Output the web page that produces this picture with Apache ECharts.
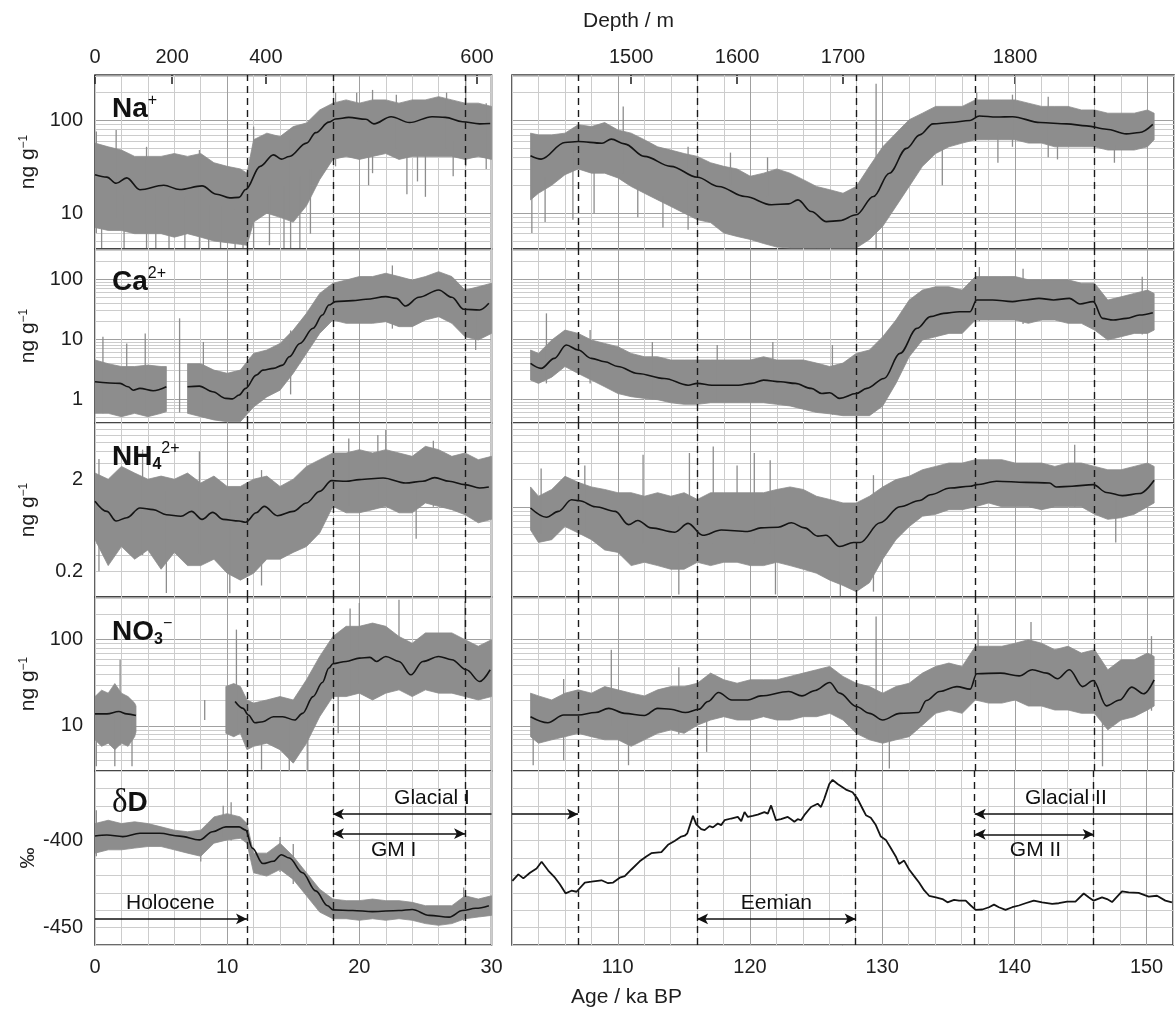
<!DOCTYPE html>
<html>
<head>
<meta charset="utf-8">
<title>Ice core ion records and δD</title>
<script src="https://cdn.jsdelivr.net/npm/echarts@6/dist/echarts.min.js"></script>
<style>
  html, body { margin: 0; padding: 0; background: #ffffff; }
  #chart { width: 1176px; height: 1014px; }
</style>
</head>
<body>
<div id="chart"></div>
<script>
// ------------------------------------------------------------------
// Records: raw-data envelopes [age ka, low, high], spikes [age, low, high]
// and the smoothed curves [age ka, value]. Left column 0-30 ka,
// right column 102-152 ka.
// ------------------------------------------------------------------

// ---- Na+ (ng/g) ----
const naLeftBand = [
  [0, 7, 57], [1, 6.5, 52], [2, 6.5, 48], [3, 6, 41], [4, 6, 41], [5, 6, 41],
  [6, 5.5, 44], [7, 6, 41], [8, 5.5, 44], [9, 5, 35], [10, 4.8, 32], [11, 4.6, 30],
  [11.5, 4.5, 27], [12, 8, 62], [13, 10, 73], [14, 9, 67], [15, 8, 86], [16, 12, 94],
  [17, 23, 130], [18, 38, 154], [19, 41, 167], [20, 38, 154], [21, 41, 167], [22, 44, 167],
  [23, 38, 154], [24, 41, 167], [25, 41, 167], [26, 41, 181], [27, 41, 167], [28, 38, 154],
  [29, 41, 154], [30, 38, 142]
];
const naLeftSpikes = [
  [0.1, 6.1, 76], [0.5, 4.2, 20], [1.6, 9, 79], [2.2, 4.2, 16], [3.9, 4.2, 52], [4.6, 4.2, 16],
  [5.6, 4.2, 15], [6.8, 4.2, 15], [7.9, 4.2, 48], [8.6, 4.2, 12], [9.5, 4.2, 12], [10.6, 4.2, 11],
  [11.2, 4.2, 11], [12, 4.2, 86], [13.2, 4.5, 20], [14.3, 4.2, 20], [14.8, 4.2, 62], [15.5, 4.2, 25],
  [16.3, 6, 30], [18.2, 32, 200], [19.8, 50, 200], [20.7, 20, 60], [21, 27, 214], [22.8, 50, 190],
  [23.6, 16, 154], [24.4, 22, 60], [25, 15, 167], [26.6, 50, 200], [27.1, 25, 60], [28.05, 32, 300],
  [29.6, 30, 154]
];
const naLeftLine = [
  [0, 26], [0.9, 24.5], [1.6, 21], [2.4, 24], [3.4, 17.9], [5.2, 20], [6.4, 18], [8.1, 19.7],
  [9.2, 16], [10.2, 14.6], [10.9, 14.8], [11.4, 18], [12.5, 32], [13.5, 42.6], [14.1, 38.3],
  [14.7, 40.8], [16, 57], [16.7, 74], [17.7, 96], [18.2, 104], [19.2, 108], [20.5, 103],
  [21.1, 92], [22.4, 110], [23.8, 95], [25.5, 110], [26.5, 108], [27.8, 97], [29.1, 92], [29.9, 93]
];
const naRightBand = [
  [103.4, 13.9, 73], [104, 16.4, 70], [105, 20, 70], [106, 26, 73], [107, 30, 90], [108, 27, 86],
  [109, 27, 95], [110, 24, 79], [111, 19.4, 73], [112, 16.4, 62], [113, 13.9, 52], [114, 11.8, 48],
  [115, 10, 44], [116, 8.5, 41], [117, 7.9, 35], [118, 6.1, 32], [119, 5.6, 30], [120, 5.2, 25],
  [121, 4.7, 27], [122, 4.3, 30], [123, 4.2, 27], [124, 4.2, 23], [125, 4.2, 19.4], [126, 4.2, 17.9],
  [127, 4.2, 16.4], [128, 4.2, 19.4], [129, 5.2, 32], [130, 7.2, 52], [131, 11.8, 73], [132, 19.4, 102],
  [133, 32, 120], [134, 44, 142], [135, 52, 142], [136, 57, 142], [137, 62, 167], [138, 62, 167],
  [139, 62, 167], [140, 62, 167], [141, 57, 154], [142, 57, 142], [143, 52, 142], [144, 52, 142],
  [145, 52, 130], [146, 52, 130], [147, 48, 120], [148, 48, 120], [149, 48, 120], [150, 52, 130],
  [150.5, 62, 120]
];
const naRightSpikes = [
  [103.5, 6.1, 62], [104.5, 8, 25], [106.6, 8.5, 73], [108.2, 10, 30], [110.4, 27, 142],
  [111.5, 9, 20], [113.4, 7, 15], [115.3, 6.6, 52], [118.5, 20, 45], [121.3, 15, 40],
  [129.5, 4.2, 250], [134.5, 20, 50], [137.1, 62, 200], [138.7, 35, 70], [139.8, 52, 190],
  [142.5, 40, 180], [143.2, 38, 60], [147.5, 35, 55]
];
const naRightLine = [
  [103.4, 41.6], [104.2, 38.3], [106, 57.9], [107, 59.3], [108.8, 56.9], [109.5, 63], [110.5, 56],
  [112, 41], [114, 32], [116, 24.4], [117.6, 19.4], [119.6, 15.1], [121.6, 12.3], [122.9, 12.6],
  [123.6, 13.9], [124.6, 10.4], [125.75, 8.1], [126.75, 8.3], [128, 9.6], [129.3, 15.1],
  [130.5, 27], [131.8, 50], [132.8, 70], [133.8, 92], [135.1, 95], [136.6, 100], [137.3, 112],
  [138.6, 109], [139.8, 110], [141.9, 95], [143.9, 92], [145.4, 87.5], [146.9, 80.5],
  [148.4, 71.7], [149.4, 74.3], [150.4, 91]
];

// ---- Ca2+ (ng/g) ----
const caLeftBandA = [
  [0, 0.58, 4.5], [1, 0.58, 3.9], [2, 0.51, 3.5], [3, 0.58, 3.5], [4, 0.51, 3.7], [5, 0.58, 3.5],
  [5.4, 0.62, 3.5]
];
const caLeftBandB = [
  [7, 0.58, 3.9], [8, 0.51, 3.9], [9, 0.45, 3.05], [10, 0.42, 2.7], [11, 0.42, 3.05], [12, 0.74, 5.8],
  [13, 1.09, 6.6], [14, 1.41, 8.5], [15, 2.7, 14.2], [16, 5.8, 27], [17, 12.5, 58], [18, 20.9, 86],
  [19, 18.4, 97], [20, 18.4, 111], [21, 18.4, 111], [22, 19.6, 126], [23, 16.2, 111], [24, 16.2, 97],
  [25, 20.9, 111], [26, 23.8, 134], [27, 18.4, 111], [28, 11, 66], [29, 9.7, 75], [30, 12.5, 86]
];
const caLeftSpikes = [
  [0.6, 0.58, 11], [2.4, 0.55, 8.5], [3.8, 0.58, 12.5], [6.4, 0.6, 22.3], [8.2, 0.5, 9],
  [14.8, 1.2, 14], [28.8, 6.6, 35], [22.5, 15, 170]
];
const caLeftLineA = [
  [0, 1.95], [1.9, 1.83], [2.5, 1.61], [2.9, 1.41], [3.4, 1.51], [4.4, 1.38], [5.4, 1.61]
];
const caLeftLineB = [
  [7.0, 1.61], [7.9, 1.65], [8.9, 1.33], [9.9, 1.03], [10.4, 1.01], [10.9, 1.17], [11.4, 1.51],
  [12.2, 2.52], [12.7, 3.05], [13.5, 3.26], [14.2, 3.7], [14.7, 5.1], [15.5, 8.5], [16.5, 15.2],
  [17.2, 25.3], [17.7, 37.2], [18.2, 42.4], [19.5, 44], [20.5, 46.3], [22, 51.3], [22.8, 48.1],
  [23.5, 35.8], [24.5, 50], [26, 66.4], [27, 50], [27.9, 31.6], [29.1, 30.7], [29.8, 39.7]
];
const caRightBand = [
  [103.4, 2.08, 6.6], [104, 1.83, 5.8], [105, 2.33, 9.7], [106, 3.5, 14.2], [107, 2.68, 12.5],
  [108, 2.08, 9.7], [109, 1.61, 8.5], [110, 1.24, 7.5], [111, 1.1, 5.8], [112, 1.03, 5.1],
  [113, 0.98, 5.1], [114, 0.87, 4.5], [115, 0.82, 4.5], [116, 0.82, 4.5], [117, 0.87, 4.5],
  [118, 0.87, 4.5], [119, 0.87, 4.5], [120, 0.87, 4.5], [121, 0.87, 5.1], [122, 0.82, 4.5],
  [123, 0.77, 4.5], [124, 0.68, 4.5], [125, 0.6, 4], [126, 0.57, 3.5], [127, 0.53, 4], [128, 0.53, 5.8],
  [129, 0.53, 6.6], [130, 0.77, 11], [131, 1.83, 20.9], [132, 5.1, 45], [133, 9.7, 66], [134, 11, 75],
  [135, 12.5, 75], [136, 12.5, 66], [137, 20.9, 111], [138, 20.9, 111], [139, 20.9, 111],
  [140, 20.9, 111], [141, 18.4, 98], [142, 20.9, 98], [143, 20.9, 98], [144, 18.4, 98], [145, 18.4, 86],
  [146, 14.2, 86], [147, 9.7, 45], [148, 11, 51], [149, 12.5, 58], [150, 12.5, 66], [150.5, 14.2, 58]
];
const caRightSpikes = [
  [104.6, 1.83, 27], [107.9, 1.83, 14.2], [112.6, 1.0, 9], [117.5, 0.9, 8], [121.7, 0.9, 9],
  [126.2, 0.55, 8], [137.3, 20, 160], [140.6, 18, 150], [149.6, 12, 110]
];
const caRightLine = [
  [103.4, 3.95], [104.2, 3.26], [105.2, 4.79], [106.1, 8.0], [107, 6.6], [108, 4.79], [109, 4.2],
  [110, 3.5], [111.5, 2.68], [113.5, 2.21], [115.3, 1.71], [116, 1.83], [117.1, 1.71], [119.1, 1.71],
  [120.1, 1.83], [121, 2.08], [122.3, 1.95], [123.4, 1.83], [124.6, 1.51], [125.4, 1.24], [126, 1.28],
  [126.75, 1.03], [128, 1.24], [128.8, 1.51], [130.1, 2.21], [131.3, 5.8], [132.6, 15.2],
  [133.6, 23.8], [134.6, 27], [135.8, 28.8], [136.6, 28.8], [137.1, 45.2], [138.3, 45.2],
  [139.8, 42.4], [140.8, 45.2], [141.8, 48.1], [142.9, 45.2], [144.1, 48.1], [144.9, 38.7],
  [145.9, 42.4], [146.6, 22.3], [147.4, 20.9], [148.4, 22.3], [149.4, 25.3], [150.4, 27.7]
];

// ---- NH4 (ng/g) ----
const nhLeftBand = [
  [0, 0.44, 2.32], [1, 0.23, 1.99], [2, 0.37, 2.74], [3, 0.27, 2.32], [4, 0.34, 1.99], [5, 0.21, 2.15],
  [6, 0.32, 1.99], [7, 0.23, 2.32], [8, 0.23, 1.81], [9, 0.27, 2.15], [10, 0.19, 1.66], [11, 0.16, 1.66],
  [12, 0.19, 1.99], [13, 0.27, 2.15], [14, 0.27, 1.66], [15, 0.32, 1.99], [16, 0.37, 2.74],
  [17, 0.52, 3.24], [18, 1.01, 3.83], [19, 0.86, 3.83], [20, 0.86, 4.16], [21, 0.93, 3.83],
  [22, 1.01, 4.16], [23, 0.86, 3.83], [24, 0.86, 3.52], [25, 1.1, 4.52], [26, 1.01, 4.16],
  [27, 0.93, 3.52], [28, 0.82, 3.83], [29, 0.67, 3.24], [30, 0.73, 3.52]
];
const nhLeftSpikes = [
  [0.3, 0.2, 3.3], [3.6, 0.3, 4.16], [5.4, 0.116, 1.5], [7.9, 0.3, 4.0], [10.2, 0.115, 1.2],
  [12.6, 0.14, 2.5], [19.2, 1.0, 5.5], [21.4, 1.0, 6.0], [22, 1.01, 6.8], [25.6, 1.0, 5.2], [24.3, 0.45, 2.0]
];
const nhLeftLine = [
  [0, 1.15], [0.9, 0.89], [1.6, 0.70], [2.4, 0.76], [3.4, 0.97], [4.4, 0.93], [5.4, 0.82], [6.5, 0.79],
  [7.3, 0.89], [8.1, 0.73], [8.9, 0.87], [9.7, 0.73], [10.9, 0.70], [11.4, 0.68], [12.2, 0.86],
  [12.8, 1.01], [13.8, 0.80], [15, 0.89], [16, 1.10], [17, 1.47], [17.9, 1.92], [19, 1.89], [20, 1.97],
  [21.8, 2.05], [23.5, 1.81], [24.8, 1.89], [25.7, 2.07], [26.8, 1.89], [28, 1.74], [29.1, 1.60],
  [29.8, 1.64]
];
const nhRightBand = [
  [103.4, 0.56, 1.64], [104, 0.41, 1.3], [105, 0.44, 1.54], [106, 0.61, 2.14], [107, 0.52, 1.84],
  [108, 0.44, 1.64], [109, 0.34, 1.54], [110, 0.32, 1.42], [111, 0.23, 1.42], [112, 0.25, 1.3],
  [113, 0.23, 1.42], [114, 0.21, 1.3], [115, 0.21, 1.42], [116, 0.25, 1.2], [117, 0.23, 1.42],
  [118, 0.25, 1.42], [119, 0.25, 1.42], [120, 0.23, 1.42], [121, 0.23, 1.42], [122, 0.25, 1.54],
  [123, 0.23, 1.64], [124, 0.21, 1.54], [125, 0.19, 1.3], [126, 0.16, 1.2], [127, 0.14, 1.1],
  [128, 0.12, 1.1], [129, 0.15, 1.3], [130, 0.27, 1.64], [131, 0.44, 1.97], [132, 0.61, 2.14],
  [133, 0.79, 2.52], [134, 0.83, 2.74], [135, 0.93, 2.98], [136, 0.93, 2.98], [137, 1.0, 3.24],
  [138, 1.1, 3.24], [139, 1.0, 3.24], [140, 1.0, 2.98], [141, 1.0, 2.98], [142, 0.93, 2.98],
  [143, 1.0, 2.74], [144, 1.0, 2.98], [145, 1.0, 2.98], [146, 0.83, 2.74], [147, 0.73, 2.52],
  [148, 0.76, 2.52], [149, 0.83, 2.74], [150, 1.0, 2.98], [150.5, 1.1, 2.74]
];
const nhRightSpikes = [
  [104.2, 0.5, 2.6], [107.5, 0.5, 2.8], [111.9, 0.4, 3.67], [114.6, 0.112, 1.0], [115.4, 0.4, 3.83],
  [117.2, 0.4, 4.5], [119.0, 0.3, 2.8], [120.3, 0.4, 3.83], [121.5, 0.4, 3.2], [121.9, 0.112, 1.0],
  [126.8, 0.107, 0.8], [129.3, 0.12, 2.2], [144.5, 1.0, 4.7], [147.6, 0.41, 1.5]
];
const nhRightLine = [
  [103.4, 0.97], [104.6, 0.77], [105.5, 0.89], [106.5, 1.19], [107.1, 1.16], [108.3, 1.0], [109.8, 0.89],
  [110.8, 0.64], [111.5, 0.71], [112.5, 0.59], [114.3, 0.53], [115.3, 0.66], [116.4, 0.49],
  [117.8, 0.56], [119.8, 0.54], [120.8, 0.59], [122.1, 0.60], [123.1, 0.67], [124.1, 0.59],
  [125.1, 0.48], [125.7, 0.49], [126.75, 0.37], [127.8, 0.41], [128.3, 0.41], [129.8, 0.67],
  [131.3, 1.0], [132.8, 1.17], [133.6, 1.35], [135.1, 1.60], [136.6, 1.67], [137.1, 1.74],
  [138.6, 1.89], [140.8, 1.84], [142.6, 1.81], [143.1, 1.64], [144.3, 1.67], [145.9, 1.74],
  [146.9, 1.43], [148.1, 1.32], [149.4, 1.39], [150.5, 1.94]
];

// ---- NO3- (ng/g) ----
const noLeftBandA = [
  [0, 6.9, 21.9], [0.5, 5.8, 26], [1, 6.3, 24], [1.5, 5.3, 31], [2, 6.3, 24], [2.5, 5.8, 21.9],
  [3, 7.5, 18.4], [3.1, 8.5, 17]
];
const noLeftBandB = [
  [9.9, 8.2, 28.7], [10.5, 7.5, 31], [11, 8.2, 28.7], [11.5, 5.3, 20], [12, 5.8, 18.4], [13, 6.3, 20],
  [14, 5.3, 21.9], [15, 3.7, 20], [16, 6.3, 34.3], [17, 12.8, 64], [18, 21.9, 109], [19, 21.9, 143],
  [20, 24, 143], [21, 20, 156], [22, 24, 143], [23, 26.2, 109], [24, 21.9, 91], [25, 26.2, 120],
  [26, 24, 120], [27, 24, 120], [28, 21.9, 100], [29, 20, 84], [30, 21.9, 100]
];
const noLeftSpikes = [
  [0.1, 3.4, 15], [1.5, 3.4, 14], [1.9, 6, 58.5], [2.8, 3.4, 14], [8.3, 11.7, 20], [10.7, 8, 131],
  [12.6, 3.1, 15], [14.7, 3.0, 12], [16.1, 3.0, 20], [18.4, 8.2, 60], [20, 30, 267], [23, 30, 290],
  [28, 30, 280], [19.3, 25, 230]
];
const noLeftLineA = [
  [0, 13.8], [0.9, 13.8], [1.8, 14.7], [2.4, 13.8], [3.1, 13.2]
];
const noLeftLineB = [
  [10.6, 19.2], [11.2, 16.0], [11.6, 13.4], [12.1, 10.9], [12.7, 11.2], [13.5, 12.8], [14.2, 12.8],
  [15.1, 11.7], [15.7, 14.0], [16.5, 21.9], [17.2, 31.9], [17.7, 46.9], [18, 52.6], [19, 56],
  [20, 61.2], [20.8, 62.4], [21.3, 56], [22, 64], [23, 56], [23.9, 39.2], [24.8, 56], [26, 64],
  [27, 58.5], [28.1, 44.8], [29.1, 32.8], [29.9, 44.8]
];
const noRightBand = [
  [103.4, 7.5, 24], [104, 6.3, 22.3], [105, 6.9, 20], [106, 7.5, 24], [107, 8.2, 26.2], [108, 7.5, 24],
  [109, 6.9, 28.6], [110, 6.9, 26.2], [111, 5.8, 24], [112, 6.9, 22.3], [113, 8.2, 26.2], [114, 9.0, 28.6],
  [115, 8.2, 28.6], [116, 10.2, 31.3], [117, 11.7, 41], [118, 12.8, 34.3], [119, 11.7, 31.3],
  [120, 11.7, 34.3], [121, 12.8, 34.3], [122, 11.7, 34.3], [123, 11.7, 37.5], [124, 12.8, 41],
  [125, 12.8, 44.8], [126, 14, 49], [127, 11.7, 37.5], [128, 8.2, 31.3], [129, 6.9, 28.6], [130, 6.3, 24],
  [131, 6.9, 28.6], [132, 7.5, 31.3], [133, 10.2, 41], [134, 14, 49], [135, 15.3, 53.6], [136, 14, 49],
  [137, 20, 84], [138, 18.4, 84], [139, 18.4, 84], [140, 20, 91], [141, 17, 100], [142, 17, 91],
  [143, 15.3, 76.6], [144, 15.3, 84], [145, 14, 70], [146, 14, 76.6], [147, 9, 44.8], [148, 11.7, 58.5],
  [149, 12.8, 58.5], [150, 15.3, 70], [150.5, 17, 64]
];
const noRightSpikes = [
  [103.6, 3.5, 20], [105.9, 4, 35], [109.5, 10, 76.6], [110.8, 3.5, 15], [114.6, 8, 48], [116.7, 5, 20],
  [129.5, 8, 186], [130.5, 3.2, 15], [137.2, 20, 200], [141.2, 17, 160], [146.6, 3.4, 30], [150.3, 15, 110]
];
const noRightLine = [
  [103.4, 12.8], [104.7, 10.9], [105.9, 13.4], [107, 13.4], [108.3, 14.3], [109.3, 16.0], [110.5, 14.0],
  [112, 13.2], [113, 16.0], [114, 15.6], [115.1, 14.3], [116.1, 15.6], [116.8, 19.2], [117.6, 24.4],
  [118.6, 20], [119.8, 20], [120.8, 22.3], [122.9, 25.1], [123.9, 22.3], [124.9, 25.8], [126, 31.9],
  [126.75, 24], [128, 16.8], [129, 14.0], [130, 11.7], [131.3, 14.0], [132.7, 14.3], [133.3, 19.7],
  [134.3, 25.1], [135.6, 28.6], [136.6, 26.7], [137.1, 40.3], [138.9, 41], [140.3, 38.1],
  [141.3, 44.8], [142.4, 41], [143.2, 35.2], [144.1, 44.8], [145.1, 28.6], [145.9, 33.7],
  [146.9, 17.1], [147.9, 20], [148.8, 28.2], [149.7, 23.6], [150.5, 34.3]
];

// ---- δD (‰) ----
const ddLeftBand = [
  [0, -407.2, -390.2], [1, -405.3, -388.3], [2, -405.3, -390.2], [3, -404.3, -389.2], [4, -403.4, -390.2],
  [5, -403.4, -392.1], [6, -405.3, -394], [7, -407.2, -394.9], [8, -409, -394], [9, -401.5, -386.4],
  [10, -399.6, -384.5], [11, -398.7, -386.4], [11.5, -401.5, -390.2], [12, -418.5, -407.2],
  [13, -420.4, -407.2], [14, -416.6, -401.5], [15, -422.3, -409], [16, -431.7, -418.5],
  [17, -441.1, -427.9], [18, -444.9, -433.6], [19, -444.9, -434.5], [20, -445.8, -434.5],
  [21, -444.9, -433.6], [22, -445.8, -434.5], [23, -444.9, -434.5], [24, -445.8, -435.5],
  [25, -447.7, -437.4], [26, -448.7, -437.4], [27, -447.7, -437.4], [28, -444.9, -431.7],
  [29, -443.9, -433.6], [30, -443, -431.7]
];
const ddLeftSpikes = [
  [0.1, -409, -382.5], [8.0, -412, -396], [9.7, -398, -380], [10.3, -400, -378], [14.0, -418, -398],
  [15.0, -425, -402], [27.9, -446, -427]
];
const ddLeftLine = [
  [0, -397.4], [0.9, -396.8], [2.1, -397.7], [3.4, -395.8], [4.9, -395.8], [6.4, -397.4], [7.9, -399.6],
  [8.9, -394.9], [9.9, -392.1], [10.9, -392.1], [11.4, -394], [11.9, -404.3], [12.7, -413.2],
  [13.5, -411.9], [14.1, -408.1], [14.7, -410], [15.7, -418.5], [16.7, -428.9], [17.6, -437.4],
  [18, -439.8], [19.5, -440.2], [21, -440.8], [23, -440.2], [24, -439.6], [25.3, -443], [26.8, -444],
  [27.8, -440.2], [28.8, -438.9], [29.8, -437.4]
];
const ddRightLine = [
  [102.03, -423.2], [102.48, -419.4], [102.86, -421.7], [103.36, -418.5], [103.86, -416.0],
  [104.24, -412.2], [104.74, -417.2], [105.25, -421.3], [105.62, -425.1], [106.05, -430.3],
  [106.5, -428.8], [106.88, -429.4], [107.01, -430.3], [107.51, -424.1], [108.01, -423.6],
  [108.77, -422.8], [109.27, -424.5], [109.65, -424.1], [110.15, -421.3], [110.53, -420.4],
  [111.03, -416.6], [111.66, -411.9], [112.16, -409.1], [112.54, -407.2], [113.3, -406.6],
  [113.8, -402.4], [114.3, -400.2], [114.8, -397.7], [115.06, -397.2], [115.26, -395.8],
  [115.69, -385.8], [115.94, -390.7], [116.31, -393.4], [116.57, -394.0], [116.94, -391.7],
  [117.2, -392.4], [117.57, -390.2], [117.82, -391.1], [118.08, -388.3], [118.58, -387.3],
  [119.08, -386.4], [119.34, -388.8], [119.59, -383.6], [119.84, -386.4], [120.21, -385.8],
  [120.59, -385.1], [121.09, -383.6], [121.35, -384.5], [121.6, -379.8], [121.97, -388.3],
  [122.35, -387.7], [122.86, -386.4], [123.11, -387.7], [123.36, -389.2], [123.61, -387.7],
  [123.86, -388.3], [124.11, -385.4], [124.62, -380.7], [125.12, -378.8], [125.37, -380.7],
  [125.62, -376.0], [126.0, -367.5], [126.25, -365.1], [126.63, -367.5], [127.26, -370.7],
  [127.76, -372.2], [128.14, -376.0], [128.52, -381.7], [128.77, -385.4], [129.14, -386.9],
  [129.52, -391.1], [129.9, -397.7], [130.28, -399.6], [130.65, -404.3], [131.03, -409.1],
  [131.28, -413.4], [131.66, -411.5], [132.04, -416.6], [132.42, -420.4], [132.79, -424.1],
  [133.17, -428.5], [133.55, -431.7], [134.06, -432.6], [134.56, -433.6], [134.94, -435.5],
  [135.44, -434.1], [135.82, -434.5], [136.32, -434.5], [136.7, -437.3], [137.07, -439.8],
  [137.58, -439.6], [138.08, -438.3], [138.46, -436.8], [138.83, -438.3], [139.33, -439.8],
  [139.84, -438.3], [140.34, -437.3], [140.84, -436.0], [141.47, -434.5], [142.1, -435.5],
  [142.86, -436.4], [143.36, -436.0], [143.99, -435.1], [144.62, -435.1], [145.25, -430.4],
  [145.62, -432.6], [146.0, -434.5], [146.63, -432.6], [147.01, -433.6], [147.39, -435.3],
  [148.14, -429.2], [148.65, -429.8], [149.4, -430.0], [150.16, -432.2], [150.79, -431.7],
  [151.42, -434.5], [151.92, -435.5]
];

// ---- axes, boundaries and annotations ----
const depthTickAgesLeft = [0, 5.84, 12.93, 28.9];
const depthTickLabelsLeft = ['0', '200', '400', '600'];
const depthTickAgesRight = [111.0, 119.0, 127.0, 140.0];
const depthTickLabelsRight = ['1500', '1600', '1700', '1800'];

const boundaryAgesLeft = [11.5, 18, 28];
const boundaryAgesRight = [107, 116, 128, 137, 146];

// [column, age, δD, text]
const periodLabels = [
  [0, 5.7, -436, 'Holocene'],
  [0, 25.5, -375.8, 'Glacial I'],
  [0, 22.6, -405.6, 'GM I'],
  [1, 122, -436, 'Eemian'],
  [1, 143.9, -375.8, 'Glacial II'],
  [1, 141.6, -405.6, 'GM II']
];
// [column, from age, to age, δD, head at start, head at end]
const periodArrows = [
  [0, 0, 11.5, -445, false, true],
  [0, 30, 18, -384.8, false, true],
  [0, 18, 28, -396, true, true],
  [1, 102, 107, -384.8, false, true],
  [1, 116, 128, -445, true, true],
  [1, 152, 137, -384.8, false, true],
  [1, 137, 146, -396.4, true, true]
];

// ------------------------------------------------------------------
// Layout and styling
// ------------------------------------------------------------------
const FONT = '"Liberation Sans", Arial, Helvetica, sans-serif';
const BAND = '#8d8d8d';
const CURVE = '#141414';
const GRID_MINOR = '#cccccc';
const GRID_MAJOR = '#a0a0a0';
const TEXT = '#1e1e1e';

const COLS = [
  { left: 95, width: 396.5, min: 0, max: 30, boundaries: boundaryAgesLeft },
  { left: 512, width: 662, min: 102, max: 152, boundaries: boundaryAgesRight }
];
const ROW_TOPS = [75, 249, 423, 597, 771];
const ROW_H = 174;

const ROWS = [
  { type: 'log', min: 4.1, max: 310, labels: [10, 100], unit: 'ion',
    left: { bands: [naLeftBand], spikes: naLeftSpikes, lines: [naLeftLine] },
    right: { bands: [naRightBand], spikes: naRightSpikes, lines: [naRightLine] },
    title: '{b|Na}{sup|+}', titleTop: 93 },
  { type: 'log', min: 0.4, max: 320, labels: [1, 10, 100], unit: 'ion',
    left: { bands: [caLeftBandA, caLeftBandB], spikes: caLeftSpikes, lines: [caLeftLineA, caLeftLineB] },
    right: { bands: [caRightBand], spikes: caRightSpikes, lines: [caRightLine] },
    title: '{b|Ca}{sup|2+}', titleTop: 266 },
  { type: 'log', min: 0.105, max: 8.1, labels: [0.2, 2], unit: 'ion',
    left: { bands: [nhLeftBand], spikes: nhLeftSpikes, lines: [nhLeftLine] },
    right: { bands: [nhRightBand], spikes: nhRightSpikes, lines: [nhRightLine] },
    title: '{b|NH}{sub|4}{sup|2+}', titleTop: 441 },
  { type: 'log', min: 3, max: 313, labels: [10, 100], unit: 'ion',
    left: { bands: [noLeftBandA, noLeftBandB], spikes: noLeftSpikes, lines: [noLeftLineA, noLeftLineB] },
    right: { bands: [noRightBand], spikes: noRightSpikes, lines: [noRightLine] },
    title: '{b|NO}{sub|3}{sup|\u2212}', titleTop: 616 },
  { type: 'value', min: -460, max: -360, interval: 10, labels: [-450, -400], unit: 'permil',
    left: { bands: [ddLeftBand], spikes: ddLeftSpikes, lines: [ddLeftLine] },
    right: { bands: [], spikes: [], lines: [ddRightLine], jagged: true },
    title: '{d|\u03b4}{b|D}', titleTop: 787 }
];

function logMinorValues(min, max) {
  const out = [];
  for (let k = Math.floor(Math.log10(min)); k <= Math.ceil(Math.log10(max)); k++) {
    for (let m = 2; m <= 9; m++) {
      const v = m * Math.pow(10, k);
      if (v > min * 1.001 && v < max * 0.999) out.push(+v.toPrecision(6));
    }
  }
  return out;
}

function bandRenderer(points) {
  return function (params, api) {
    if (params.dataIndex !== 0) return null;
    const upper = points.map(p => api.coord([p[0], p[2]]));
    const lower = points.slice().reverse().map(p => api.coord([p[0], p[1]]));
    return {
      type: 'polygon',
      shape: { points: upper.concat(lower) },
      style: { fill: BAND, stroke: BAND, lineWidth: 0.8 }
    };
  };
}

function spikeRenderer(params, api) {
  const a = api.coord([api.value(0), api.value(1)]);
  const b = api.coord([api.value(0), api.value(2)]);
  return {
    type: 'line',
    shape: { x1: a[0], y1: a[1], x2: b[0], y2: b[1] },
    style: { stroke: BAND, lineWidth: 1.3 }
  };
}

// period names drawn as plain text at their data positions
function periodLabelRenderer(params, api) {
  const p = api.coord([api.value(0), api.value(1)]);
  return {
    type: 'text',
    x: p[0], y: p[1],
    style: {
      text: periodLabels.filter(l => l[1] === api.value(0) && l[2] === api.value(1))[0][3],
      fill: '#111111', font: '21px ' + FONT, align: 'center', verticalAlign: 'middle'
    }
  };
}

const grid = [], xAxis = [], yAxis = [], series = [];

ROWS.forEach((row, r) => {
  COLS.forEach((col, c) => {
    const g = r * 2 + c;
    grid.push({
      left: col.left, top: ROW_TOPS[r], width: col.width, height: ROW_H,
      show: true, borderColor: '#3a3a3a', borderWidth: 1.6, backgroundColor: 'transparent',
      containLabel: false
    });
    const isBottom = r === ROWS.length - 1;
    xAxis.push({
      gridIndex: g, type: 'value', min: col.min, max: col.max, interval: 2,
      axisLine: { show: false }, axisTick: { show: false },
      axisLabel: {
        show: isBottom, fontFamily: FONT, fontSize: 20, color: TEXT, margin: 12,
        formatter: v => (v % 10 === 0 ? String(v) : '')
      },
      splitLine: { show: true, lineStyle: { color: GRID_MINOR, width: 1 } }
    });

    const yCfg = {
      gridIndex: g, type: row.type, min: row.min, max: row.max,
      axisLine: { show: false }, axisTick: { show: false },
      axisLabel: {
        show: c === 0, customValues: row.labels,
        fontFamily: FONT, fontSize: 20, color: TEXT, margin: 12
      },
      splitLine: { show: true, lineStyle: { color: row.type === 'log' ? GRID_MAJOR : GRID_MINOR, width: 1 } }
    };
    if (row.interval) yCfg.interval = row.interval;
    if (c === 0) {
      yCfg.name = row.unit === 'ion' ? '{n|ng g}{s|\u22121}' : '{n|\u2030}';
      yCfg.nameLocation = 'middle';
      yCfg.nameRotate = 90;
      yCfg.nameGap = 56;
      yCfg.nameTextStyle = {
        fontFamily: FONT, fontSize: 21, color: TEXT,
        rich: {
          n: { fontFamily: FONT, fontSize: 21, color: TEXT },
          s: { fontFamily: FONT, fontSize: 12, color: TEXT, verticalAlign: 'top' }
        }
      };
    }
    yAxis.push(yCfg);

    // light grid lines behind the records
    const gridLines = [];
    if (row.type === 'log') {
      logMinorValues(row.min, row.max).forEach(v => gridLines.push({ yAxis: v }));
    }
    for (let a = Math.ceil(col.min / 10) * 10; a < col.max; a += 10) {
      if (a > col.min) gridLines.push({ xAxis: a, lineStyle: { color: GRID_MAJOR, width: 1 } });
    }
    series.push({
      type: 'line', xAxisIndex: g, yAxisIndex: g, data: [], silent: true, z: 1,
      markLine: {
        z: 1, silent: true, symbol: 'none', animation: false, label: { show: false },
        lineStyle: { color: GRID_MINOR, width: 1, type: 'solid' },
        emphasis: { disabled: true },
        data: gridLines
      }
    });

    const rec = c === 0 ? row.left : row.right;
    rec.bands.forEach(b => {
      series.push({
        type: 'custom', xAxisIndex: g, yAxisIndex: g, silent: true, z: 2, clip: true,
        data: [[b[0][0], b[0][2]]],
        renderItem: bandRenderer(b)
      });
    });
    if (rec.spikes.length) {
      series.push({
        type: 'custom', xAxisIndex: g, yAxisIndex: g, silent: true, z: 2, clip: true,
        encode: { x: 0, y: [1, 2] },
        data: rec.spikes,
        renderItem: spikeRenderer
      });
    }
    rec.lines.forEach((ln, i) => {
      const s = {
        type: 'line', xAxisIndex: g, yAxisIndex: g, data: ln, silent: true, z: 3,
        showSymbol: false, symbol: 'none', clip: true,
        smooth: rec.jagged ? false : 0.35, smoothMonotone: rec.jagged ? undefined : 'x',
        lineStyle: { color: CURVE, width: rec.jagged ? 1.8 : 1.6 }
      };
      if (i === 0) {
        s.markLine = {
          silent: true, symbol: 'none', animation: false, label: { show: false },
          emphasis: { disabled: true },
          lineStyle: { color: '#1a1a1a', width: 1.4, type: [7, 5] },
          data: col.boundaries.map(v => ({ xAxis: v }))
        };
      }
      series.push(s);
    });

    if (row.unit === 'permil') {
      const labels = periodLabels.filter(p => p[0] === c).map(p => [p[1], p[2]]);
      const arrows = periodArrows.filter(p => p[0] === c).map(p => [
        { coord: [p[1], p[3]], symbol: p[4] ? 'arrow' : 'none' },
        { coord: [p[2], p[3]], symbol: p[5] ? 'arrow' : 'none' }
      ]);
      series.push({
        type: 'custom', xAxisIndex: g, yAxisIndex: g, silent: true, z: 4, clip: false,
        data: labels,
        renderItem: periodLabelRenderer,
        markLine: {
          silent: true, animation: false, label: { show: false },
          emphasis: { disabled: true },
          symbolSize: [8, 11],
          lineStyle: { color: '#111', width: 1.6, type: 'solid' },
          data: arrows
        }
      });
    }
  });
});

// depth scale along the top of the first row
function depthAxis(gridIndex, ages, labels, col) {
  return {
    gridIndex, type: 'value', position: 'top', min: col.min, max: col.max,
    axisLine: { show: false },
    splitLine: { show: false },
    axisTick: { show: true, inside: true, length: 9, customValues: ages, lineStyle: { color: '#2a2a2a', width: 1.6 } },
    axisLabel: {
      show: true, customValues: ages, margin: 8,
      fontFamily: FONT, fontSize: 20, color: TEXT,
      formatter: v => {
        const i = ages.findIndex(a => Math.abs(a - v) < 1e-6);
        return i >= 0 ? labels[i] : '';
      }
    }
  };
}
xAxis.push(depthAxis(0, depthTickAgesLeft, depthTickLabelsLeft, COLS[0]));
xAxis.push(depthAxis(1, depthTickAgesRight, depthTickLabelsRight, COLS[1]));

const richTitle = {
  b: { fontFamily: FONT, fontSize: 28, fontWeight: 'bold', color: '#111', lineHeight: 32 },
  d: { fontFamily: '"Liberation Serif", "DejaVu Serif", serif', fontSize: 33, fontWeight: 'normal', color: '#111', lineHeight: 32 },
  sup: { fontFamily: FONT, fontSize: 16, fontWeight: 'normal', color: '#111', verticalAlign: 'top' },
  sub: { fontFamily: FONT, fontSize: 16, fontWeight: 'bold', color: '#111', verticalAlign: 'bottom' }
};
const title = ROWS.map(row => ({
  text: row.title, left: 112, top: row.titleTop, padding: 0,
  textStyle: { rich: richTitle, fontFamily: FONT, fontSize: 28, fontWeight: 'bold', color: '#111' }
}));
title.push({
  text: 'Depth / m', left: 583, top: 11, padding: 0,
  textStyle: { fontFamily: FONT, fontSize: 21, fontWeight: 'normal', color: TEXT }
});
title.push({
  text: 'Age / ka BP', left: 571, top: 987, padding: 0,
  textStyle: { fontFamily: FONT, fontSize: 21, fontWeight: 'normal', color: TEXT }
});

const chart = echarts.init(document.getElementById('chart'), null, { renderer: 'canvas' });
chart.setOption({
  animation: false,
  backgroundColor: '#ffffff',
  title, grid, xAxis, yAxis, series
});
</script>
</body>
</html>
